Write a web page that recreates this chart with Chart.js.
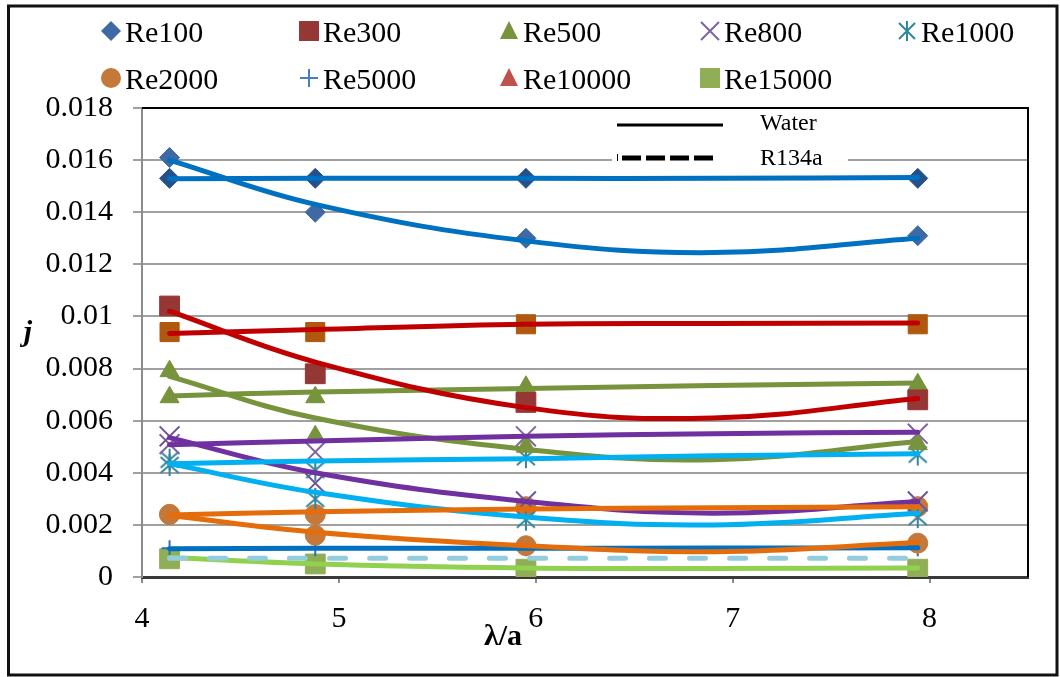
<!DOCTYPE html>
<html lang="en">
<head>
<meta charset="UTF-8" />
<title>j vs λ/a</title>
<style>
  html, body { margin: 0; padding: 0; background: #fff; }
  #wrap { width: 1060px; height: 677px; position: relative; }
</style>
</head>
<body>
<div id="wrap"><canvas id="jChart"></canvas></div>

<script src="https://cdn.jsdelivr.net/npm/chart.js"></script>
<script>
// λ/a of the measured points
const lambdaA = [4.14, 4.88, 5.95, 7.94];
const lambdaFit = [4.14, 4.88, 5.95, 6.9, 7.94];

const xTickLabels = ['4', '5', '6', '7', '8'];
const yTickLabels = ['0', '0.002', '0.004', '0.006', '0.008', '0.01', '0.012', '0.014', '0.016', '0.018'];
const legendNames = ['Re100', 'Re300', 'Re500', 'Re800', 'Re1000', 'Re2000', 'Re5000', 'Re10000', 'Re15000'];
const keyNames = ['Water', 'R134a'];

// measured j, falling set and nearly flat set
const re100Drop = [0.0161, 0.0140, 0.0130, 0.0131];
const re100Flat = [0.0153, 0.0153, 0.0153, 0.0153];
const re300Drop = [0.0104, 0.0078, 0.0067, 0.0068];
const re300Flat = [0.0094, 0.0094, 0.0097, 0.0097];
const re500Drop = [0.0079, 0.0054, 0.0050, 0.0051];
const re500Flat = [0.0069, 0.0069, 0.0073, 0.0074];
const re800Drop = [0.0054, 0.0036, 0.0029, 0.0029];
const re800Flat = [0.0051, 0.0048, 0.0054, 0.0055];
const re1000Drop = [0.0045, 0.0030, 0.0022, 0.0023];
const re1000Flat = [0.0043, 0.0041, 0.0046, 0.0047];
const re2000Drop = [0.0024, 0.0016, 0.0012, 0.0013];
const re2000Flat = [0.0024, 0.0024, 0.0027, 0.0027];
const re5000Pts = [0.0011, 0.0011, 0.0011, 0.0011];
const re15000Pts = [0.0007, 0.0005, 0.0003, 0.0003];

// fitted curves (read at lambdaFit)
const re100DropFit = [0.0160, 0.0143, 0.0129, 0.01245, 0.0130];
const re100FlatFit = [0.01528, 0.0153, 0.0153, 0.0153, 0.01533];
const re300DropFit = [0.0102, 0.00825, 0.0065, 0.0061, 0.00685];
const re300FlatFit = [0.00935, 0.0095, 0.0097, 0.00973, 0.00975];
const re500DropFit = [0.0077, 0.0061, 0.0049, 0.0045, 0.0052];
const re500FlatFit = [0.00695, 0.0071, 0.00723, 0.00735, 0.00745];
const re800DropFit = [0.00535, 0.0040, 0.0029, 0.00245, 0.0029];
const re800FlatFit = [0.00508, 0.00522, 0.0054, 0.0055, 0.00556];
const re1000DropFit = [0.00435, 0.00325, 0.0023, 0.0020, 0.00245];
const re1000FlatFit = [0.00435, 0.00445, 0.00454, 0.00465, 0.00473];
const re2000DropFit = [0.00236, 0.00172, 0.0012, 0.00097, 0.00132];
const re2000FlatFit = [0.00238, 0.0025, 0.00261, 0.00266, 0.0027];
const re5000Fit = [0.00108, 0.0011, 0.0011, 0.00111, 0.00112];
const re15000Fit = [0.00075, 0.0005, 0.00035, 0.00033, 0.00035];
const r134aFit = [0.00072, 0.00072, 0.00072, 0.00072, 0.00072];

const SERIF = '"Liberation Serif", "Times New Roman", serif';

// asterisk marker (X plus vertical bar) like Excel's
function asteriskImg(color) {
    const c = document.createElement('canvas');
    c.width = 24; c.height = 24;
    const g = c.getContext('2d');
    g.strokeStyle = color; g.lineWidth = 2;
    g.beginPath();
    g.moveTo(3, 4); g.lineTo(21, 20);
    g.moveTo(21, 4); g.lineTo(3, 20);
    g.moveTo(12, 1); g.lineTo(12, 23);
    g.stroke();
    return c;
}

function marks(values, style, radius, color, width) {
    return {
        data: values.map((v, i) => ({ x: lambdaA[i], y: v })),
        showLine: false,
        pointStyle: style,
        pointRadius: radius,
        pointBackgroundColor: color,
        pointBorderColor: color,
        pointBorderWidth: width || 1,
        order: 2
    };
}

function fit(values, color, dash) {
    return {
        data: values.map((v, i) => ({ x: lambdaFit[i], y: v })),
        showLine: true,
        borderColor: color,
        borderWidth: 5,
        borderDash: dash || [],
        borderCapStyle: 'round',
        borderJoinStyle: 'round',
        pointRadius: 0,
        tension: 0.4,
        fill: false,
        order: 1
    };
}

const datasets = [
    fit(re100DropFit, '#0070c0'), fit(re100FlatFit, '#0070c0'),
    fit(re300DropFit, '#c00000'), fit(re300FlatFit, '#c00000'),
    fit(re2000DropFit, '#e46c0a'), fit(re2000FlatFit, '#e46c0a'),
    fit(re5000Fit, '#0070c0'),
    fit(r134aFit, '#93cddd', [16, 24]),
    fit(re15000Fit, '#92d050'),
    fit(re1000DropFit, '#00b0f0'), fit(re1000FlatFit, '#00b0f0'),
    fit(re800DropFit, '#7030a0'), fit(re800FlatFit, '#7030a0'),
    fit(re500DropFit, '#77933c'), fit(re500FlatFit, '#77933c'),

    marks(re100Drop, 'rectRot', 10, '#3e69a2'),
    marks(re100Flat, 'rectRot', 10, '#26508a'),
    marks(re300Drop, 'rect', 14, '#953735'),
    marks(re300Flat, 'rect', 13.5, '#b0580e'),
    marks(re500Drop, 'triangle', 11, '#77933c'),
    marks(re500Flat, 'triangle', 11, '#77933c'),
    marks(re800Drop, 'crossRot', 14, '#6f529a', 2),
    marks(re800Flat, 'crossRot', 14, '#7f63a2', 2),
    marks(re1000Drop, asteriskImg('#31859c'), 11, '#31859c', 2),
    marks(re1000Flat, asteriskImg('#31859c'), 11, '#31859c', 2),
    marks(re2000Drop, 'circle', 10, '#c4783a'),
    marks(re2000Flat, 'circle', 10, '#c4783a'),
    marks(re5000Pts, 'cross', 8, '#2f6fba', 2),
    marks(re15000Pts, 'rect', 14, '#8fae55')
];

// legend marker drawing
const legendKinds = ['diamond', 'square', 'triangle', 'x', 'asterisk', 'circle', 'plus', 'triangle', 'square'];
const legendColors = ['#3e69a2', '#953735', '#77933c', '#7f63a2', '#31859c', '#c4783a', '#4a7ebb', '#c0504d', '#8fae55'];

function drawMark(ctx, kind, x, y, color) {
    ctx.save();
    ctx.fillStyle = color;
    ctx.strokeStyle = color;
    ctx.lineWidth = 2;
    ctx.beginPath();
    if (kind === 'diamond') {
        ctx.moveTo(x, y - 10); ctx.lineTo(x + 10, y); ctx.lineTo(x, y + 10); ctx.lineTo(x - 10, y);
        ctx.closePath(); ctx.fill();
    } else if (kind === 'square') {
        ctx.fillRect(x - 10, y - 10, 20, 20);
    } else if (kind === 'triangle') {
        ctx.moveTo(x, y - 10); ctx.lineTo(x + 9, y + 8); ctx.lineTo(x - 9, y + 8);
        ctx.closePath(); ctx.fill();
    } else if (kind === 'x') {
        ctx.moveTo(x - 9, y - 9); ctx.lineTo(x + 9, y + 9);
        ctx.moveTo(x + 9, y - 9); ctx.lineTo(x - 9, y + 9);
        ctx.stroke();
    } else if (kind === 'asterisk') {
        ctx.moveTo(x - 8, y - 8); ctx.lineTo(x + 8, y + 8);
        ctx.moveTo(x + 8, y - 8); ctx.lineTo(x - 8, y + 8);
        ctx.moveTo(x, y - 10); ctx.lineTo(x, y + 10);
        ctx.stroke();
    } else if (kind === 'circle') {
        ctx.arc(x, y, 10, 0, Math.PI * 2); ctx.fill();
    } else if (kind === 'plus') {
        ctx.moveTo(x - 9, y); ctx.lineTo(x + 9, y);
        ctx.moveTo(x, y - 9); ctx.lineTo(x, y + 9);
        ctx.stroke();
    }
    ctx.restore();
}

const decorations = {
    id: 'decorations',
    afterDraw(chart) {
        const ctx = chart.ctx;
        const a = chart.chartArea;
        ctx.save();

        // plot area top / right border
        ctx.strokeStyle = '#000';
        ctx.lineWidth = 2;
        ctx.beginPath();
        ctx.moveTo(a.left, a.top); ctx.lineTo(a.right, a.top); ctx.lineTo(a.right, a.bottom);
        ctx.stroke();

        // outer frame
        ctx.lineWidth = 3;
        ctx.strokeStyle = '#111';
        ctx.strokeRect(8.5, 6, 1048.5, 669);

        // series legend (two rows, fixed columns)
        const cols = [111, 309, 509, 710, 907];
        const rows = [31, 78];
        ctx.font = '30px ' + SERIF;
        ctx.fillStyle = '#000';
        ctx.textBaseline = 'alphabetic';
        ctx.textAlign = 'left';
        legendNames.forEach((name, i) => {
            const cx = cols[i % 5];
            const cy = rows[Math.floor(i / 5)];
            drawMark(ctx, legendKinds[i], cx, cy, legendColors[i]);
            ctx.fillStyle = '#000';
            ctx.fillText(name, cx + 14, cy + 11);
        });

        // Water / R134a key
        ctx.fillStyle = '#fff';
        ctx.fillRect(612, 112, 236, 60);
        ctx.strokeStyle = '#000';
        ctx.lineWidth = 3;
        ctx.beginPath();
        ctx.moveTo(617, 125); ctx.lineTo(723, 125);
        ctx.stroke();
        ctx.lineWidth = 5;
        ctx.setLineDash([19, 5]);
        ctx.beginPath();
        ctx.moveTo(622, 158); ctx.lineTo(716, 158);
        ctx.stroke();
        ctx.setLineDash([]);
        ctx.lineWidth = 1;
        ctx.beginPath();
        ctx.moveTo(617.5, 154); ctx.lineTo(617.5, 161);
        ctx.stroke();
        ctx.font = '24px ' + SERIF;
        ctx.fillStyle = '#000';
        ctx.fillText(keyNames[0], 760, 130);
        ctx.fillText(keyNames[1], 760, 165);

        // axis titles
        ctx.font = 'bold 30px ' + SERIF;
        ctx.textAlign = 'center';
        ctx.fillText('λ/a', 503, 645);
        ctx.font = 'italic bold 30px ' + SERIF;
        ctx.fillText('j', 28, 341);

        ctx.restore();
    }
};

new Chart(document.getElementById('jChart'), {
    type: 'scatter',
    data: { datasets: datasets },
    options: {
        responsive: true,
        maintainAspectRatio: false,
        animation: false,
        events: [],
        layout: { padding: { top: 108, right: 32, left: 0, bottom: 0 } },
        plugins: {
            legend: { display: false },
            tooltip: { enabled: false }
        },
        scales: {
            x: {
                type: 'linear',
                min: 4,
                max: 8.5,
                afterFit: function (scale) { scale.height = 100; },
                ticks: {
                    stepSize: 1,
                    includeBounds: false,
                    padding: 18,
                    color: '#000',
                    font: { family: SERIF, size: 30 },
                    callback: function (value, index) { return xTickLabels[index]; }
                },
                grid: {
                    drawOnChartArea: false,
                    drawTicks: true,
                    tickLength: 6,
                    color: '#8c8c8c',
                    lineWidth: 2
                },
                border: { display: true, color: '#3a3a3a', width: 3 }
            },
            y: {
                min: 0,
                max: 0.018,
                afterFit: function (scale) { scale.width = 142; },
                ticks: {
                    stepSize: 0.002,
                    padding: 20,
                    color: '#000',
                    font: { family: SERIF, size: 30 },
                    callback: function (value, index) { return yTickLabels[index]; }
                },
                grid: {
                    color: '#a0a0a0',
                    lineWidth: 2,
                    drawTicks: true,
                    tickLength: 9
                },
                border: { display: true, color: '#8c8c8c', width: 2 }
            }
        }
    },
    plugins: [decorations]
});
</script>
</body>
</html>
